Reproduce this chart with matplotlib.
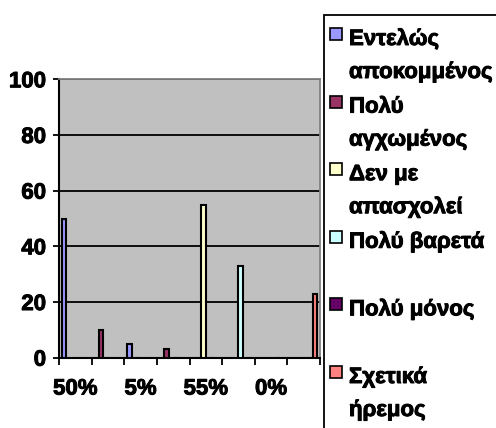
import numpy as np
import matplotlib
matplotlib.use('Agg')
import matplotlib.pyplot as plt
import matplotlib.patheffects as pe
from matplotlib.patches import Rectangle

nan = np.nan

# Categories (only every second label fits on the axis)
categories = ['50%', '10%', '5%', '3%', '55%', '33%', '0%', '23%']

# Series values per category
series_names = [
    ['Εντελώς', 'αποκομμένος'],
    ['Πολύ', 'αγχωμένος'],
    ['Δεν με', 'απασχολεί'],
    ['Πολύ βαρετά'],
    ['Πολύ μόνος'],
    ['Σχετικά', 'ήρεμος'],
]
s1 = [50, nan, 5, nan, nan, nan, nan, nan]
s2 = [nan, 10, nan, 3, nan, nan, nan, nan]
s3 = [nan, nan, 0, nan, 55, nan, nan, nan]
s4 = [nan, nan, nan, 0, nan, 33, nan, nan]
s5 = [nan, nan, nan, nan, 0, nan, 0, nan]
s6 = [nan, nan, nan, nan, nan, 0, nan, 23]
series_values = [s1, s2, s3, s4, s5, s6]

colors = ['#9999FF', '#993366', '#FFFFCC', '#CCFFFF', '#660066', '#FF8080']

plt.rcParams['font.family'] = ['Liberation Sans', 'DejaVu Sans']
plt.rcParams['font.weight'] = 'bold'
heavy = [pe.withStroke(linewidth=0.7, foreground='black')]

W, H = 496, 428
fig = plt.figure(figsize=(W / 100, H / 100), dpi=100)
ax = fig.add_axes([59 / W, 1 - 357.7 / H, (320 - 59) / W, (357.7 - 79.3) / H])
ax.set_facecolor('#C0C0C0')

x = np.arange(len(categories))
bar_w = 0.138
for i, (vals, col) in enumerate(zip(series_values, colors)):
    ax.bar(x - 0.346 + bar_w * i, vals, width=bar_w, color=col,
           edgecolor='black', linewidth=1.5, zorder=3)

ax.set_xlim(-0.5, len(categories) - 0.5)
ax.set_ylim(0, 100)
ax.set_yticks([0, 20, 40, 60, 80, 100])
ax.grid(axis='y', color='black', linewidth=1.3, zorder=1)

# category boundary ticks, labels at every second category
ax.set_xticks(np.arange(-0.5, len(categories)), [''] * (len(categories) + 1))
ax.set_xticks(x[::2], categories[::2], minor=True)
ax.tick_params(axis='x', which='major', length=5, width=1.3, direction='out')
ax.tick_params(axis='x', which='minor', length=0, pad=15, labelsize=16)
ax.tick_params(axis='y', length=4.3, width=1.3, pad=5, labelsize=16)
for lbl in ax.get_xticklabels(minor=True) + ax.get_yticklabels():
    lbl.set_path_effects(heavy)

for side in ['left', 'bottom']:
    ax.spines[side].set_linewidth(1.5)
    ax.spines[side].set_color('black')
for side in ['top', 'right']:
    ax.spines[side].set_color('#808080')
    ax.spines[side].set_linewidth(1.3)

# legend box drawn by hand (extends past the figure edge)
fig.patches.append(Rectangle((324 / W, -0.05), 0.4, 1 - 15 / H + 0.05,
                             transform=fig.transFigure, facecolor='white',
                             edgecolor='black', linewidth=1.3))
for i, (lines, col) in enumerate(zip(series_names, colors)):
    base = 45 + 67.6 * i
    fig.patches.append(Rectangle((330 / W, 1 - (base - 5) / H), 12 / W, 12 / H,
                                 transform=fig.transFigure, facecolor=col,
                                 edgecolor='black', linewidth=1.2))
    for j, line in enumerate(lines):
        fig.text(349 / W, 1 - (base + 33 * j) / H, line, fontsize=16,
                 fontweight='bold', va='baseline', ha='left',
                 path_effects=heavy)

fig.savefig('out.png', dpi=100)
